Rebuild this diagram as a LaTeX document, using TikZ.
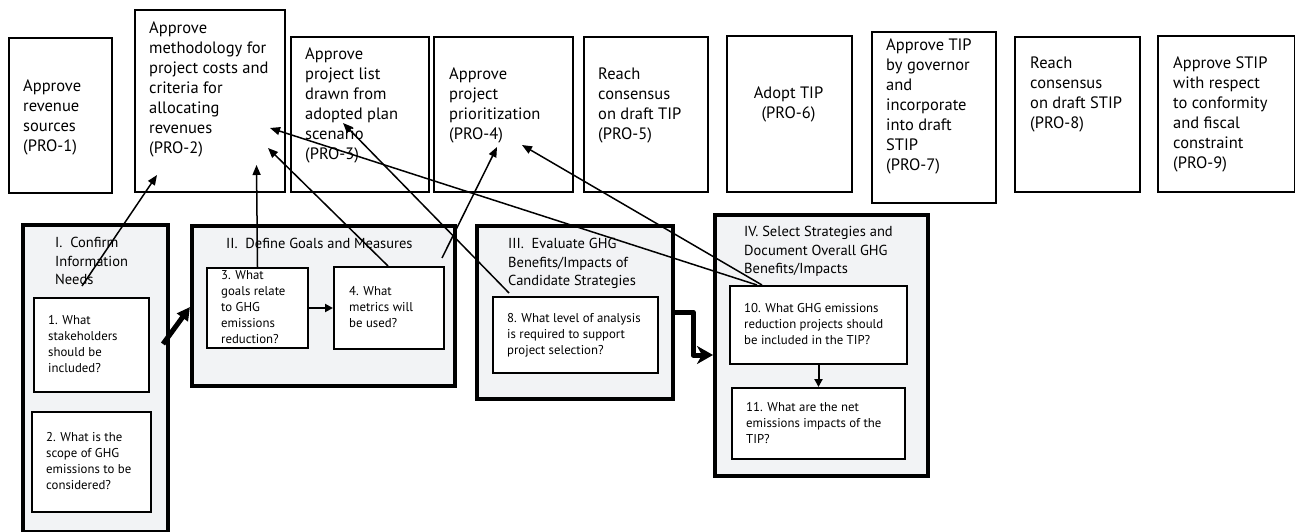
\documentclass[tikz,border=0pt]{standalone}
\usepackage{fontspec}
\setmainfont{PT Sans}
\usetikzlibrary{arrows.meta,calc}
\definecolor{grpfill}{HTML}{F2F3F5}
\begin{document}
\begin{tikzpicture}[x=1pt,y=-1pt,
  probox/.style={draw,line width=2pt,fill=white,inner sep=0pt,anchor=north west},
  grpbox/.style={draw,line width=4pt,fill=grpfill,inner sep=0pt,anchor=north west},
  qbox/.style={draw,line width=2pt,fill=white,inner sep=0pt,anchor=north west},
  protext/.style={anchor=north west,inner sep=0pt,align=left,font=\fontsize{16.5}{20}\selectfont},
  grptext/.style={anchor=north west,inner sep=0pt,align=left,font=\fontsize{14.5}{18.5}\selectfont},
  qtext/.style={anchor=north west,inner sep=0pt,align=left,font=\fontsize{12.8}{16}\selectfont},
  thinarrow/.style={line width=1.5pt,-{Triangle[length=10pt,width=8pt]}},
  flowarrow/.style={line width=2pt,-{Triangle[length=8pt,width=8pt]}},
  bigarrow/.style={line width=5pt},
]
\useasboundingbox (0,0) rectangle (1295,532);
% PRO boxes
\node[probox,minimum width=103,minimum height=155] (p1) at (8,37) {};
\node[probox,minimum width=150,minimum height=182] (p2) at (134,9) {};
\node[probox,minimum width=138,minimum height=155] (p3) at (290,36) {};
\node[probox,minimum width=139,minimum height=155] (p4) at (433,36) {};
\node[probox,minimum width=124,minimum height=155] (p5) at (583,36) {};
\node[probox,minimum width=125,minimum height=156] (p6) at (726,35) {};
\node[probox,minimum width=124,minimum height=171] (p7) at (871,31) {};
\node[probox,minimum width=125,minimum height=155] (p8) at (1014,36) {};
\node[probox,minimum width=137,minimum height=156] (p9) at (1157,35) {};
\node[protext] (pt1) at (23,80) {Approve\\revenue\\sources\\(PRO-1)};
\node[protext] (pt2) at (149,22) {Approve\\methodology for\\project costs and\\criteria for\\allocating\\revenues\\(PRO-2)};
\node[protext] (pt3) at (305,48) {Approve\\project list\\drawn from\\adopted plan\\scenario\\(PRO-3)};
\node[protext] (pt4) at (449,68) {Approve\\project\\prioritization\\(PRO-4)};
\node[protext] (pt5) at (598,68) {Reach\\consensus\\on draft TIP\\(PRO-5)};
\node[protext,align=center,anchor=north] (pt6) at (788.5,87) {Adopt TIP\\(PRO-6)};
\node[protext] (pt7) at (886,39) {Approve TIP\\by governor\\and\\incorporate\\into draft\\STIP\\(PRO-7)};
\node[protext] (pt8) at (1030,57) {Reach\\consensus\\on draft STIP\\(PRO-8)};
\node[protext] (pt9) at (1173,57) {Approve STIP\\with respect\\to conformity\\and fiscal\\constraint\\(PRO-9)};
% groups
\node[grpbox,minimum width=145,minimum height=307] (g1) at (21,223) {};
\node[grpbox,minimum width=263,minimum height=160] (g2) at (190,224) {};
\node[grpbox,minimum width=196,minimum height=173] (g3) at (475,224) {};
\node[grpbox,minimum width=213,minimum height=261] (g4) at (713,213) {};
\node[grptext] (gt1) at (55,237) {I.\ \ Confirm\\Information\\Needs};
\node[grptext] (gt2) at (226,238) {II.\ \ Define Goals and Measures};
\node[grptext] (gt3) at (508,238) {III.\ \ Evaluate GHG\\Benefits/Impacts of\\Candidate Strategies};
\node[grptext] (gt4) at (744,226) {IV. Select Strategies and\\Document Overall GHG\\Benefits/Impacts};
% question boxes
\node[qbox,minimum width=115,minimum height=94] (b1) at (33,297) {};
\node[qbox,minimum width=119,minimum height=100] (b2) at (31,411) {};
\node[qbox,minimum width=101,minimum height=80] (b3) at (206,267) {};
\node[qbox,minimum width=110,minimum height=82] (b4) at (333,266) {};
\node[qbox,minimum width=165,minimum height=76] (b8) at (492,296) {};
\node[qbox,minimum width=177,minimum height=78] (b10) at (729,285) {};
\node[qbox,minimum width=173,minimum height=71] (b11) at (731,387) {};
\node[qtext] (bt1) at (48,315) {1. What\\stakeholders\\should be\\included?};
\node[qtext] (bt2) at (46,432) {2. What is the\\scope of GHG\\emissions to be\\considered?};
\node[qtext] (bt3) at (221,270) {3. What\\goals relate\\to GHG\\emissions\\reduction?};
\node[qtext] (bt4) at (349,286) {4. What\\metrics will\\be used?};
\node[qtext] (bt8) at (507,313) {8. What level of analysis\\is required to support\\project selection?};
\node[qtext] (bt10) at (744,303) {10. What GHG emissions\\reduction projects should\\be included in the TIP?};
\node[qtext] (bt11) at (746,402) {11. What are the net\\emissions impacts of the\\TIP?};
% connector end points
\coordinate (a1s) at (82,286);
\coordinate (a1e) at (157,175);
\coordinate (a2e) at (256.5,165);
\coordinate (a3s) at (388,266);
\coordinate (a3e) at (268,148);
\coordinate (a4s) at (442,258);
\coordinate (a4e) at (497,147);
\coordinate (a5s) at (509,293);
\coordinate (a5e) at (343,123);
\coordinate (a6s) at (757,285);
\coordinate (a6e) at (270,128);
\coordinate (a7s) at (762,285);
\coordinate (a7e) at (522,145);
\coordinate (k1s) at (163,344);
\coordinate (k1e) at (190,307);
\coordinate (k3s) at (671,312);
\coordinate (k3a) at (693,312);
\coordinate (k3b) at (693,355);
\coordinate (k3e) at (713,355);
% connectors
\draw[flowarrow] (b3.east) -- (b4.west);
\draw[flowarrow] (b10.south) -- (b11.north);
\draw[thinarrow] (a1s) -- (a1e);
\draw[thinarrow] (b3.north) -- (a2e);
\draw[thinarrow] (a3s) -- (a3e);
\draw[thinarrow] (a4s) -- (a4e);
\draw[thinarrow] (a5s) -- (a5e);
\draw[thinarrow] (a6s) -- (a6e);
\draw[thinarrow] (a7s) -- (a7e);
\draw[bigarrow,-{Triangle[length=13pt,width=13pt]}] (k1s) -- (k1e);
\draw[bigarrow,line join=round,-{Stealth[length=16pt,width=18pt,inset=5pt]}] (k3s) -- (k3a) -- (k3b) -- (k3e);
\end{tikzpicture}
\end{document}
